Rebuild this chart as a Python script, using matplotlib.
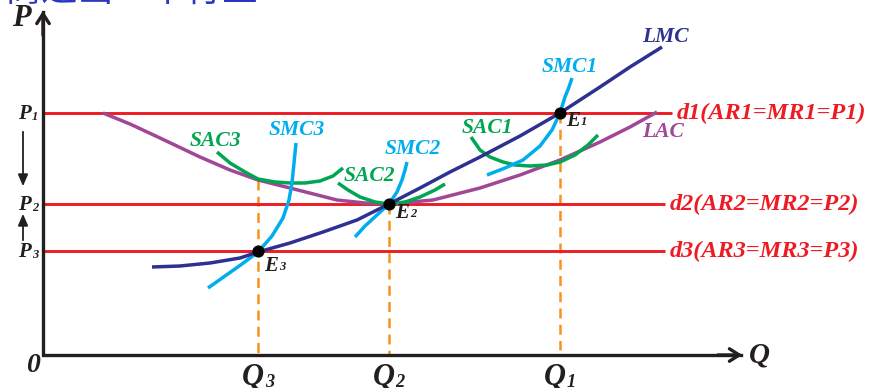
import matplotlib
matplotlib.use("Agg")
import matplotlib.pyplot as plt

# Drawing space is the picture itself: x to the right, y downwards (pixels).
RED = "#ed1c24"
NAVY = "#2e3192"
PURPLE = "#a04795"
GREEN = "#00a651"
CYAN = "#00aeef"
ORANGE = "#f7941d"
INK = "#231f20"
SERIF = "Liberation Serif"

# price levels (P1, P2, P3) and where each demand line ends
price_y = [113, 204, 251]
price_end = [672, 665, 665]
demand_labels = ["d1(AR1=MR1=P1)", "d2(AR2=MR2=P2)", "d3(AR3=MR3=P3)"]

# long-run curves
lmc_x = [152, 180, 210, 240, 258, 290, 323, 357, 389, 420, 450, 480, 520, 560, 600, 630, 662]
lmc_y = [267, 266, 263, 258, 252, 243, 232, 220, 204, 188, 172, 157, 136, 113, 87, 67, 47]
lac_x = [103, 130, 160, 200, 230, 258, 290, 337, 365, 389, 433, 480, 520, 560, 600, 630, 657]
lac_y = [113, 124, 138, 157, 170, 180, 188, 200, 203, 204, 200, 188, 175, 160, 142, 127, 112]

# short-run average cost curves
sac3_x = [217, 230, 245, 258, 275, 290, 305, 320, 333, 343]
sac3_y = [152, 163, 172, 179, 182, 183, 183, 181, 176, 168]
sac2_x = [338, 348, 360, 375, 389, 405, 420, 435, 445]
sac2_y = [183, 190, 197, 202, 204, 202, 197, 190, 184]
sac1_x = [471, 480, 490, 503, 515, 530, 547, 560, 575, 588, 598]
sac1_y = [137, 150, 157, 162, 165, 166, 165, 162, 155, 145, 135]

# short-run marginal cost curves
smc3_x = [208, 225, 242, 258, 272, 283, 289, 292, 294, 296]
smc3_y = [288, 276, 264, 252, 236, 218, 200, 183, 163, 143]
smc2_x = [355, 365, 377, 389, 397, 402, 405, 407]
smc2_y = [237, 226, 215, 204, 192, 180, 170, 162]
smc1_x = [487, 505, 523, 540, 552, 560, 565, 569, 572]
smc1_y = [175, 168, 160, 146, 130, 113, 97, 87, 78]

# equilibrium points E1, E2, E3 and the quantity guides
eq_x = [560, 389, 258]
eq_y = [113, 204, 251]
q_x = [560, 389, 258]
q_top = [113, 204, 180]
q_bottom = [350, 355, 355]
q_subs = ["1", "2", "3"]

AX_X0, AX_Y0 = 43, 355
AX_TOP, AX_RIGHT = 8, 745


def sub_label(ax, x, y, main, sub, fs, color, sub_fs=None, dy=-3):
    """Bold italic letter ending at x, with a small subscript right after it."""
    ax.text(x, y, main, ha="right", va="center", fontsize=fs, color=color,
            family=SERIF, weight="bold", style="italic")
    ax.annotate(sub, (x, y), xytext=(0.5, dy), textcoords="offset points",
                ha="left", va="center", fontsize=sub_fs or fs * 0.6,
                color=color, family=SERIF, weight="bold", style="italic")


fig = plt.figure(figsize=(8.72, 3.88), dpi=100)
ax = fig.add_axes([0, 0, 1, 1])
ax.set_xlim(0, 872)
ax.set_ylim(388, 0)
ax.axis("off")

# cut-off title at the very top
ax.text(-30, 1, "厂商进出一个行业", ha="left", va="baseline", fontsize=26,
        color="#2a35c0", family=["Noto Sans CJK SC", "DejaVu Sans"])

# demand / price lines
for y, xe, lbl in zip(price_y, price_end, demand_labels):
    ax.plot([AX_X0, xe], [y, y], color=RED, lw=2.1, solid_capstyle="butt", zorder=2)
    ax.text(xe + 5, y, lbl, ha="left", va="center", fontsize=17.5, color=RED,
            family=SERIF, weight="bold", style="italic")

# dashed quantity guides
for x, yt, yb in zip(q_x, q_top, q_bottom):
    ax.plot([x, x], [yt, yb], color=ORANGE, lw=1.8, ls=(0, (4, 2.5)), zorder=1)

kw = dict(lw=2.5, solid_capstyle="butt", solid_joinstyle="round", zorder=3)
ax.plot(lac_x, lac_y, color=PURPLE, **kw)
ax.plot(sac3_x, sac3_y, color=GREEN, **kw)
ax.plot(sac2_x, sac2_y, color=GREEN, **kw)
ax.plot(sac1_x, sac1_y, color=GREEN, **kw)
ax.plot(smc3_x, smc3_y, color=CYAN, **kw)
ax.plot(smc2_x, smc2_y, color=CYAN, **kw)
ax.plot(smc1_x, smc1_y, color=CYAN, **kw)
ax.plot(lmc_x, lmc_y, color=NAVY, **kw)

ax.scatter(eq_x, eq_y, s=60, color="black", zorder=5)

# axes with open arrow heads
ax.plot([AX_X0, AX_X0, AX_RIGHT - 4], [AX_TOP + 4, AX_Y0, AX_Y0], color=INK, lw=2.4,
        solid_joinstyle="miter", zorder=4)
ax.annotate("", xy=(AX_X0, AX_TOP), xytext=(AX_X0, AX_TOP + 30),
            arrowprops=dict(arrowstyle="->,head_length=0.7,head_width=0.45", color=INK, lw=2.4))
ax.annotate("", xy=(AX_RIGHT, AX_Y0), xytext=(AX_RIGHT - 30, AX_Y0),
            arrowprops=dict(arrowstyle="->,head_length=0.7,head_width=0.45", color=INK, lw=2.4))

ax.text(21, 18, "P", ha="center", va="center", fontsize=22, color=INK,
        family=SERIF, weight="bold", style="italic")
ax.text(759, 355, "Q", ha="center", va="center", fontsize=21, color=INK,
        family=SERIF, weight="bold", style="italic")
ax.text(33, 365, "0", ha="center", va="center", fontsize=20, color=INK,
        family=SERIF, weight="bold", style="italic")

# price labels and movement arrows
for y, s in zip(price_y, ["1", "2", "3"]):
    sub_label(ax, 31, y + 1, "P", s, 15, INK, dy=-2)
ax.annotate("", xy=(23, 189), xytext=(23, 129),
            arrowprops=dict(arrowstyle="-|>,head_length=0.7,head_width=0.3", color=INK, lw=1.3))
ax.annotate("", xy=(23, 211), xytext=(23, 243),
            arrowprops=dict(arrowstyle="-|>,head_length=0.7,head_width=0.3", color=INK, lw=1.3))

# quantity labels
for x, s in zip(q_x, q_subs):
    sub_label(ax, x + 6, 378, "Q", s, 22, INK, dy=-3)

# equilibrium labels
for (x, y), s in zip([(580, 121), (409, 213), (278, 266)], ["1", "2", "3"]):
    sub_label(ax, x, y, "E", s, 15, INK, dy=-1)

# curve names
lab = dict(ha="center", va="center", fontsize=15.5, family=SERIF, weight="bold", style="italic")
ax.text(665, 37, "LMC", color=NAVY, **lab)
ax.text(663, 132, "LAC", color=PURPLE, **lab)
ax.text(570, 67, "SMC1", color=CYAN, **lab)
ax.text(413, 149, "SMC2", color=CYAN, **lab)
ax.text(297, 130, "SMC3", color=CYAN, **lab)
ax.text(487, 128, "SAC1", color=GREEN, **lab)
ax.text(369, 176, "SAC2", color=GREEN, **lab)
ax.text(215, 141, "SAC3", color=GREEN, **lab)

fig.savefig("out.png", dpi=100, facecolor="white")
